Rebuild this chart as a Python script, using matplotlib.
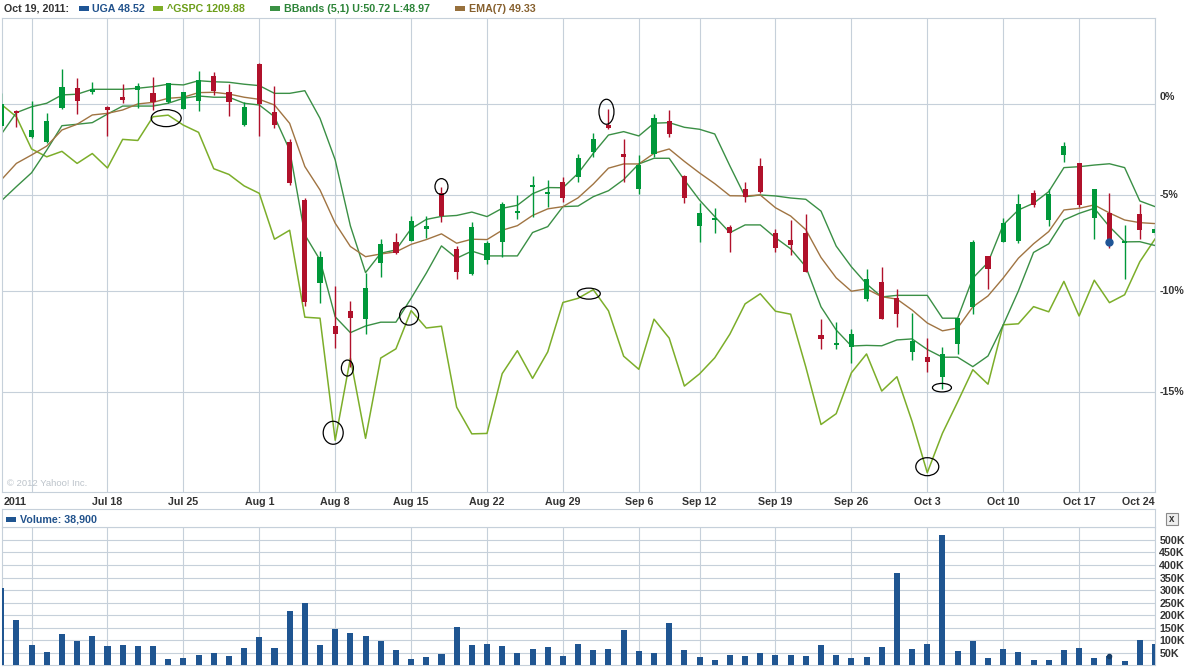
import numpy as np
import pandas as pd
import matplotlib
matplotlib.use("Agg")
import matplotlib.pyplot as plt
from matplotlib.patches import Ellipse, Rectangle
from matplotlib.lines import Line2D
from matplotlib.ticker import NullLocator
from matplotlib.transforms import ScaledTranslation

# ---------------------------------------------------------------------------
# Data: UGA candles vs ^GSPC, % change from the Jul 7, 2011 close
# ---------------------------------------------------------------------------
days = pd.bdate_range("2011-07-07", "2011-10-24")
days = days[days != pd.Timestamp("2011-09-05")]  # Labor Day, market closed

uga_open = [
    -1.22, -0.38, -1.85, -2.09, -0.23, 0.91, 0.68, -0.14, 0.43, 0.81,
    0.62, 0.15, -0.28, 0.19, 1.61, 0.71, -1.16, 2.30, -0.42, -2.09,
    -5.26, -9.61, -11.76, -11.00, -11.43, -8.55, -7.48, -7.40, -6.81, -4.90,
    -7.85, -9.13, -8.41, -7.46, -5.93, -4.54, -4.94, -4.27, -4.00, -2.64,
    -1.16, -2.78, -4.67, -2.77, -0.94, -3.97, -6.65, -6.32, -6.67, -4.67,
    -3.41, -7.02, -7.37, -7.02, -12.22, -12.70, -12.78, -10.41, -9.53, -10.37,
    -13.06, -13.30, -14.25, -12.65, -10.79, -8.20, -7.49, -7.42, -4.90, -6.32,
    -2.82, -3.27, -6.23, -5.96, -7.55, -6.02, -7.00,
]
uga_high = [
    0.64, -0.32, 0.20, -0.47, 2.01, 1.51, 1.28, -0.10, 1.15, 1.19,
    1.57, 1.23, 0.71, 1.90, 1.86, 1.13, 0.11, 2.34, 1.04, -1.96,
    -5.17, -7.94, -9.74, -10.51, -9.07, -7.33, -6.99, -6.11, -6.11, -4.54,
    -7.71, -6.41, -7.42, -5.35, -4.99, -3.97, -4.18, -4.00, -2.77, -1.62,
    -0.28, -1.96, -2.82, -0.54, -0.32, -3.91, -5.43, -5.68, -6.58, -4.31,
    -3.00, -6.81, -6.32, -6.00, -11.43, -11.58, -11.92, -8.88, -8.77, -9.88,
    -11.12, -12.37, -12.80, -11.36, -7.37, -8.20, -6.23, -4.95, -4.72, -4.67,
    -2.12, -3.24, -4.67, -4.90, -6.58, -5.47, -6.60,
]
uga_low = [
    -1.33, -1.26, -1.86, -2.18, -0.24, -0.55, 0.57, -1.76, 0.09, -0.19,
    -0.32, 0.06, -0.29, -0.36, 0.53, -0.66, -1.22, -1.77, -1.35, -4.45,
    -10.76, -10.59, -12.87, -13.78, -12.16, -9.27, -8.10, -7.42, -7.28, -6.41,
    -9.40, -9.16, -8.63, -8.24, -6.28, -6.15, -5.62, -5.35, -4.27, -2.91,
    -1.40, -4.27, -4.95, -2.94, -1.81, -5.44, -7.46, -7.02, -7.98, -5.35,
    -4.90, -7.98, -8.15, -9.02, -12.90, -12.90, -13.60, -10.49, -11.43, -11.82,
    -13.44, -14.00, -14.85, -13.14, -11.17, -9.90, -7.50, -7.51, -5.61, -6.62,
    -3.18, -5.61, -7.32, -7.80, -9.39, -7.30, -7.10,
]
uga_close = [
    0.00, -0.51, -1.44, -0.94, 0.96, 0.19, 0.88, -0.34, 0.24, 1.06,
    0.15, 1.19, 0.68, 1.38, 0.77, 0.11, -0.14, 0.02, -1.16, -4.36,
    -10.54, -8.24, -12.17, -11.36, -9.83, -7.59, -8.06, -6.36, -6.62, -6.11,
    -9.01, -6.67, -7.54, -5.49, -5.83, -4.45, -4.85, -5.17, -3.00, -1.94,
    -1.34, -2.94, -3.37, -0.79, -1.68, -5.13, -5.96, -6.23, -6.99, -5.08,
    -4.81, -7.80, -7.62, -9.02, -12.40, -12.62, -12.17, -9.40, -11.43, -11.16,
    -12.48, -13.55, -13.16, -11.38, -7.49, -8.88, -6.49, -5.49, -5.52, -4.95,
    -2.31, -5.52, -4.68, -7.50, -7.42, -6.84, -6.80,
]
gspc_pct = [
    0.00, -0.70, -2.49, -2.92, -2.62, -3.28, -2.74, -3.53, -1.96, -2.02,
    -0.70, -0.61, -1.17, -1.57, -3.57, -3.88, -4.50, -4.90, -7.33, -6.86,
    -11.32, -11.37, -17.27, -13.35, -17.18, -13.34, -12.89, -10.99, -11.86, -11.77,
    -15.71, -16.97, -16.95, -14.10, -12.98, -14.33, -13.04, -10.58, -10.37, -9.93,
    -11.00, -13.25, -13.89, -11.42, -12.36, -14.70, -14.11, -13.33, -12.16, -10.65,
    -10.14, -11.02, -11.17, -13.78, -16.53, -16.02, -14.06, -13.14, -14.94, -14.25,
    -16.39, -18.77, -16.94, -15.46, -13.91, -14.61, -11.70, -11.65, -10.79, -11.05,
    -9.51, -11.26, -9.45, -10.59, -10.19, -8.50, -7.32,
]
bb_upper = [
    -1.68, -0.47, -0.14, 0.06, 0.53, 0.57, 0.85, 0.85, 0.85, 0.91,
    1.00, 1.14, 1.10, 1.34, 1.28, 1.25, 1.14, 1.06, 0.62, 0.62,
    0.77, -0.79, -3.09, -6.63, -9.06, -8.06, -7.89, -6.78, -6.29, -6.13,
    -6.08, -5.90, -6.14, -5.70, -5.54, -4.92, -4.59, -4.60, -3.82, -2.73,
    -1.72, -1.53, -1.77, -1.06, -1.03, -1.29, -1.40, -1.66, -3.42, -5.08,
    -4.99, -5.04, -5.15, -5.22, -5.85, -7.69, -8.76, -9.64, -10.30, -10.22,
    -10.22, -10.22, -11.37, -11.37, -9.34, -8.54, -6.58, -5.79, -5.43, -4.81,
    -3.51, -3.46, -3.37, -3.30, -3.51, -5.31, -5.61,
]
bb_lower = [
    -5.31, -4.54, -3.79, -2.55, -1.20, -1.12, -1.03, -0.55, -0.10, -0.10,
    -0.10, 0.06, 0.34, 0.47, 0.40, 0.40, 0.06, -0.04, -0.70, -2.55,
    -7.10, -8.41, -11.30, -12.09, -11.76, -11.57, -11.57, -10.37, -9.09, -7.68,
    -8.32, -7.95, -8.20, -8.20, -8.20, -6.98, -6.67, -5.61, -5.58, -5.08,
    -4.76, -4.16, -3.31, -3.00, -3.00, -4.18, -5.26, -6.14, -6.99, -6.58,
    -6.58, -7.25, -7.83, -8.76, -10.80, -11.96, -12.75, -12.72, -12.74, -12.45,
    -12.40, -12.92, -13.30, -13.30, -13.76, -13.24, -11.71, -10.00, -8.02, -7.57,
    -6.32, -5.97, -5.70, -6.67, -7.47, -7.46, -7.66,
]
ema7 = [
    -4.18, -3.28, -2.82, -2.33, -1.44, -1.12, -0.60, -0.51, -0.32, 0.02,
    0.11, 0.34, 0.40, 0.66, 0.68, 0.58, 0.40, 0.28, -0.04, -1.07,
    -3.45, -4.72, -6.49, -7.71, -8.24, -8.10, -7.99, -7.60, -7.35, -7.05,
    -7.54, -7.33, -7.35, -6.86, -6.62, -6.08, -5.73, -5.61, -5.14, -4.40,
    -3.54, -3.31, -3.31, -2.73, -2.49, -3.17, -3.80, -4.38, -5.03, -5.04,
    -4.99, -5.67, -6.11, -6.83, -8.28, -9.33, -10.01, -9.89, -10.29, -10.41,
    -10.96, -11.61, -12.00, -11.86, -10.80, -10.25, -9.34, -8.32, -7.57, -6.93,
    -5.79, -5.70, -5.52, -5.95, -6.32, -6.46, -6.51,
]
volume = [
    308000, 181000, 81000, 55000, 125000, 97000, 117000, 77000, 81000, 77000,
    77000, 25000, 29000, 41000, 49000, 37000, 69000, 113000, 69000, 217000,
    249000, 81000, 145000, 129000, 117000, 97000, 61000, 25000, 33000, 45000,
    153000, 81000, 85000, 77000, 49000, 65000, 73000, 37000, 85000, 61000,
    65000, 141000, 57000, 49000, 169000, 61000, 33000, 21000, 41000, 37000,
    49000, 41000, 41000, 37000, 81000, 41000, 29000, 33000, 73000, 368000,
    65000, 85000, 520000, 57000, 97000, 29000, 65000, 53000, 21000, 21000,
    61000, 69000, 29000, 38900, 17000, 101000, 85000,
]

# hover readout shown in the chart header (Oct 19)
hover_idx = 73
legend_items = [
    ("UGA 48.52", "#1f5596", "#21528c"),
    ("^GSPC 1209.88", "#7fae28", "#6c9e1a"),
    ("BBands (5,1) U:50.72 L:48.97", "#3a9144", "#2c8438"),
    ("EMA(7) 49.33", "#97703c", "#86602e"),
]

# ---------------------------------------------------------------------------
# Styling
# ---------------------------------------------------------------------------
W, H, DPI = 1197, 667, 100
FONT = "Liberation Sans"
UP, DOWN = "#00983a", "#b0112b"
GSPC_C, BB_C, EMA_C = "#7cae2a", "#3a8f45", "#a07442"
VOL_C = "#1f5591"
GRID = "#c6d0da"
TXT = "#333333"
FS = 7.7
HEAD_Y = 8.5

fig = plt.figure(figsize=(W / DPI, H / DPI), dpi=DPI)
fig.patch.set_facecolor("white")


def fig_rect(x0, y0, x1, y1):
    """pixel box (origin top-left) -> figure-fraction rect"""
    return [x0 / W, 1 - y1 / H, (x1 - x0) / W, (y1 - y0) / H]


def ftext(px, py, s, **kw):
    fig.text(px / W, 1 - py / H, s, fontfamily=FONT, **kw)


def fline(x0, y0, x1, y1, color=GRID):
    fig.add_artist(Line2D([x0 / W, x1 / W], [1 - y0 / H, 1 - y1 / H],
                          transform=fig.transFigure, color=color, lw=0.8))


def swatch(px, py, color, w=10, h=5):
    fig.add_artist(Rectangle((px / W, 1 - (py + h / 2) / H), w / W, h / H,
                             transform=fig.transFigure, color=color, lw=0))


ax = fig.add_axes(fig_rect(2, 18, 1155, 492))
axv = fig.add_axes(fig_rect(2, 527.4, 1155, 665.3))

x = np.arange(len(days))
xlim = ((2 - 1.2) / 15.2, (1155 - 1.2) / 15.2)

# week starts -> vertical grid and date labels
iso_week = days.isocalendar().week.to_numpy()
starts = [i for i in range(1, len(days)) if iso_week[i] != iso_week[i - 1]]

# ---------------------------------------------------------------------------
# Price panel
# ---------------------------------------------------------------------------
ax.set_yscale("function", functions=(lambda p: np.log1p(np.asarray(p) / 100.0),
                                      lambda v: 100.0 * np.expm1(v)))

ax.plot(x, gspc_pct, color=GSPC_C, lw=1.1, zorder=2)
ax.plot(x, bb_upper, color=BB_C, lw=1.0, zorder=2)
ax.plot(x, bb_lower, color=BB_C, lw=1.0, zorder=2)
ax.plot(x, ema7, color=EMA_C, lw=1.0, zorder=2)

o, hi, lo, c = (np.asarray(a) for a in (uga_open, uga_high, uga_low, uga_close))
cols = np.where(c >= o, UP, DOWN)
ax.vlines(x, lo, hi, colors=cols, lw=1.0, zorder=3)
ax.bar(x, np.maximum(np.abs(c - o), 0.09), bottom=np.minimum(o, c), width=0.34,
       color=cols, linewidth=0, zorder=4)
ax.plot(x[hover_idx], c[hover_idx], "o", ms=5, color="#1f5596", zorder=5)

ax.set_xlim(*xlim)
ax.set_ylim(-19.65, 4.99)
ax.set_xticks(starts)
ax.set_yticks([-15, -10, -5, 0])
ax.yaxis.set_minor_locator(NullLocator())
ax.xaxis.set_minor_locator(NullLocator())
ax.grid(True, color=GRID, lw=0.8, zorder=0)
ax.tick_params(length=0, labelbottom=False, labelleft=False)
for s in ax.spines.values():
    s.set_color(GRID)
    s.set_linewidth(0.8)

lab_kw = dict(fontfamily=FONT, fontweight="bold", fontsize=FS, color=TXT)
for v in [0, -5, -10, -15]:
    ax.annotate(f"{v}%", xy=(1, v), xycoords=("axes fraction", "data"),
                xytext=(3.1, 5 if v == 0 else 0), textcoords="offset points",
                ha="left", va="center", **lab_kw)

for k, i in enumerate(starts):
    if k == 0:
        ax.annotate(str(days[i].year), xy=(0, 0), xycoords="axes fraction",
                    xytext=(1.5, -7), textcoords="offset points",
                    ha="left", va="center", **lab_kw)
    elif i > xlim[1]:
        ax.annotate(f"{days[i]:%b} {days[i].day}", xy=(1, 0), xycoords="axes fraction",
                    xytext=(-0.5, -7), textcoords="offset points",
                    ha="right", va="center", **lab_kw)
    else:
        ax.annotate(f"{days[i]:%b} {days[i].day}", xy=(i, 0),
                    xycoords=("data", "axes fraction"),
                    xytext=(0, -7), textcoords="offset points",
                    ha="center", va="center", **lab_kw)

ax.text(0.004, 0.018, "\u00a9 2012 Yahoo! Inc.", transform=ax.transAxes,
        fontfamily=FONT, fontsize=6.8, color="#bcc3ca", ha="left", va="center")

# hand-drawn circles: (series, day index, dx px, dy px, width px, height px)
circled = [
    ("gspc", 11, -2, 3, 30, 17),
    ("high", 29, 0, 0, 13, 16),
    ("high", 40, -2, 2.5, 15, 25),
    ("gspc", 22, -2, -7.5, 20, 23),
    ("low", 23, -3, 1, 12, 16),
    ("gspc", 27, -2, 5, 19, 19),
    ("gspc", 39, -4.5, 4, 23, 11),
    ("low", 62, -0.5, -1.5, 19, 8.5),
    ("gspc", 61, 0, -6, 23, 18),
]
series = {"gspc": gspc_pct, "high": uga_high, "low": uga_low}
for name, i, dx, dy, w, h in circled:
    tr = fig.dpi_scale_trans + ScaledTranslation(i, series[name][i], ax.transData)
    ell = Ellipse((dx / DPI, -dy / DPI), w / DPI, h / DPI, transform=tr,
                  fill=False, edgecolor="black", lw=0.9, zorder=6)
    ax.add_artist(ell)

# ---------------------------------------------------------------------------
# Volume panel
# ---------------------------------------------------------------------------
axv.bar(x, volume, width=0.40, color=VOL_C, linewidth=0, zorder=3)
axv.plot(x[hover_idx], volume[hover_idx], "o", ms=3, color="#183e66", zorder=4)
axv.set_xlim(*xlim)
axv.set_ylim(0, 550000)
vt = np.arange(50000, 550001, 50000)
axv.set_yticks(vt)
axv.set_yticklabels([f"{v // 1000}K" if v < 550000 else "" for v in vt])
axv.set_xticks(starts)
axv.yaxis.tick_right()
axv.tick_params(length=0, labelbottom=False, pad=3.1)
for t in axv.get_yticklabels():
    t.set_fontfamily(FONT)
    t.set_fontweight("bold")
    t.set_fontsize(FS)
    t.set_color(TXT)
axv.grid(True, color=GRID, lw=0.8, zorder=0)
for s in axv.spines.values():
    s.set_color(GRID)
    s.set_linewidth(0.8)

# volume header strip
fline(2, 509, 1155, 509)
fline(2, 509, 2, 527.4)
fline(1155, 509, 1155, 527.4)
swatch(6, 519, VOL_C)
ftext(20, 519, f"Volume: {volume[hover_idx]:,}", fontweight="bold",
      fontsize=FS, color="#21528c", va="center", ha="left")
fig.add_artist(Rectangle((1166 / W, 1 - 525 / H), 12 / W, 12 / H,
                         transform=fig.transFigure, facecolor="#eeeeee",
                         edgecolor="#8a8a8a", lw=0.8))
ftext(1172, 518.5, "x", fontweight="bold", fontsize=7, color="#333333",
      ha="center", va="center")

# chart header readout
d = days[hover_idx]
ftext(4, HEAD_Y, f"{d:%b} {d.day}, {d.year}:", fontweight="bold", fontsize=FS,
      color=TXT, va="center", ha="left")
positions = [(78.5, 92), (153, 167), (270, 284), (455, 469)]
for (label, sw_col, txt_col), (sx, tx) in zip(legend_items, positions):
    swatch(sx, HEAD_Y, sw_col)
    ftext(tx, HEAD_Y, label, fontweight="bold", fontsize=FS, color=txt_col,
          va="center", ha="left")

fig.savefig("out.png", dpi=DPI, facecolor="white")
